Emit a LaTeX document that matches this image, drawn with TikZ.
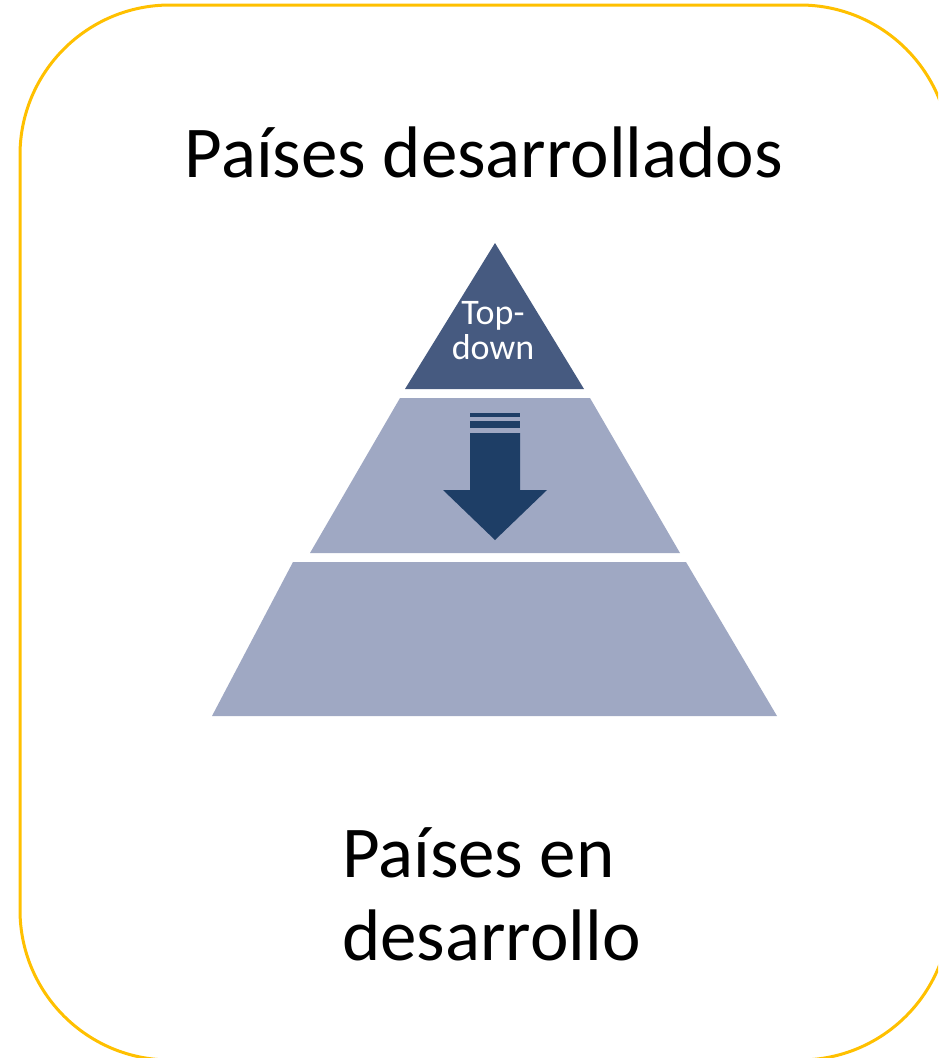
\documentclass[tikz,border=0pt]{standalone}
\usepackage{fontspec}
\setmainfont{Carlito}
\definecolor{frameyellow}{HTML}{FFC000}
\definecolor{topblue}{HTML}{465A80}
\definecolor{layerblue}{HTML}{9FA8C3}
\definecolor{arrowblue}{HTML}{1E3E66}
\tikzset{
  >=latex,
}
\tikzstyle{frame}=[draw=frameyellow,line width=3pt,rounded corners=150pt]
\tikzstyle{bigtext}=[font=\fontsize{73}{83}\selectfont,inner sep=0pt]
\tikzstyle{tiptext}=[font=\fontsize{36}{35}\selectfont,text=white,inner sep=0pt,align=center]
\tikzstyle{layer}=[fill=layerblue]

\begin{document}
\begin{tikzpicture}[x=1pt,y=-1pt]
        \useasboundingbox (0,0) rectangle (938,1058);
        \clip (0,0) rectangle (938,1058);
        \draw[frame] (20,5) rectangle (950,1060);
        % pyramid
        \fill[topblue] (495,243)--(584,389)--(405,389)--cycle;
        \fill[layer] (400,398)--(590,398)--(680,553)--(310,553)--cycle;
        \fill[layer] (293,562)--(686,562)--(777,716)--(212,716)--cycle;
        % arrow down
        \fill[arrowblue] (470,413) rectangle (520,417);
        \fill[arrowblue] (470,421) rectangle (520,428);
        \fill[arrowblue] (470,433)--(520,433)--(520,490)--(547,490)--(495,540)--(443,490)--(470,490)--cycle;
        \node[tiptext,anchor=base] (topdown) at (493,359) {Top-\\down};
        \node[bigtext,anchor=base] (rich) at (484,177) {Países desarrollados};
        \node[bigtext,anchor=base west,align=left] (poor) at (342,960) {Países en\\desarrollo};
      \end{tikzpicture}
\end{document}
